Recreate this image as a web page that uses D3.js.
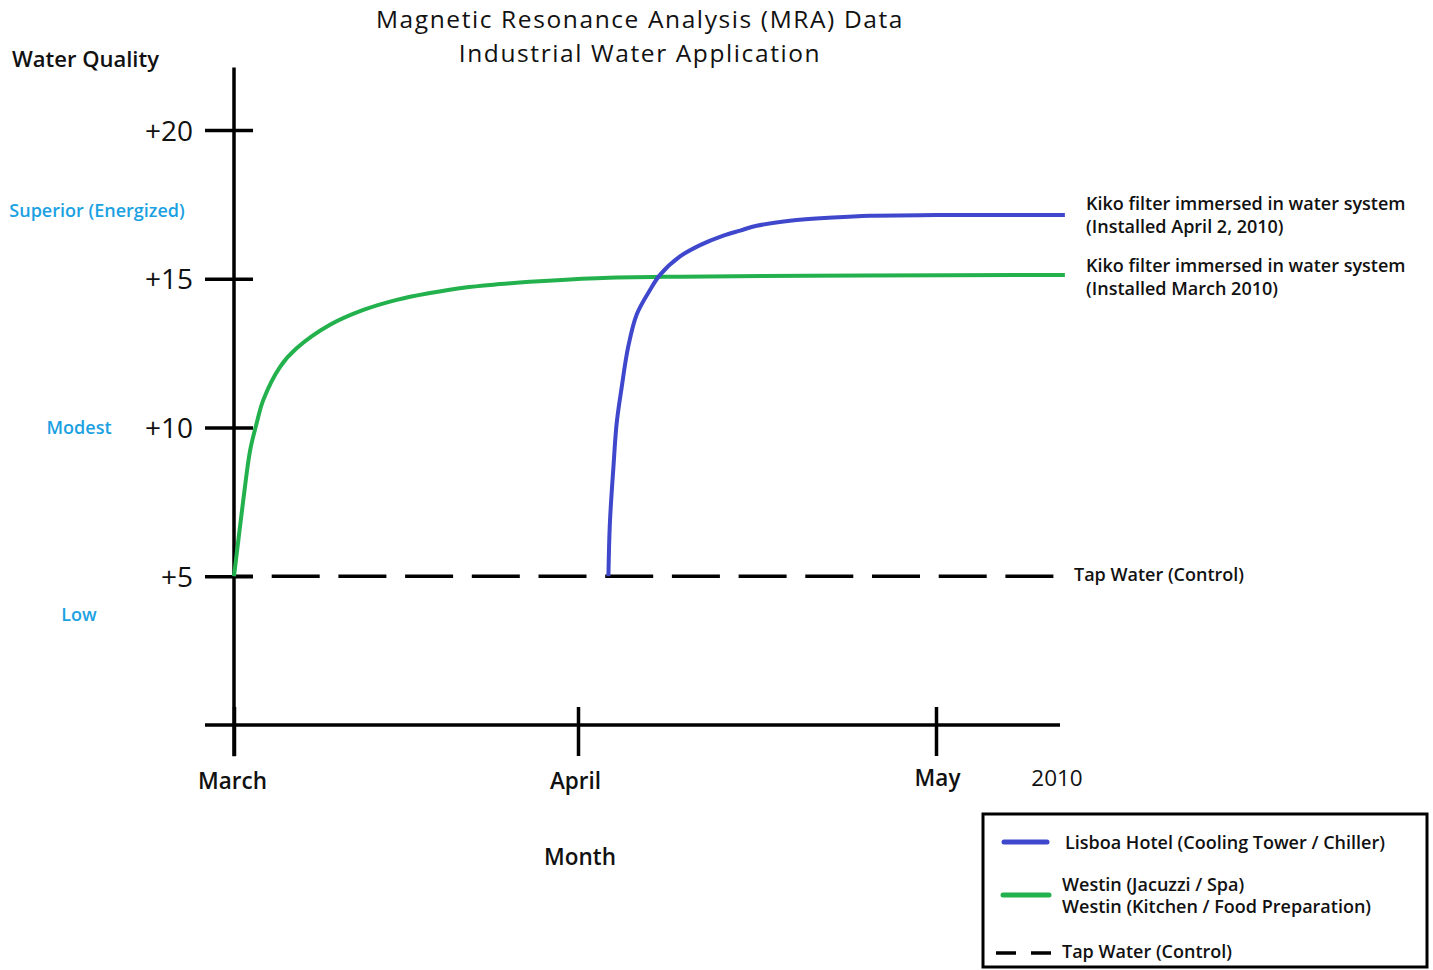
<!DOCTYPE html>
<html><head><meta charset="utf-8">
<script src="https://cdn.jsdelivr.net/npm/d3@7"></script>
<style>
body{margin:0;background:#fff;}
svg text{font-family:"Open Sans",sans-serif;}
</style></head>
<body><svg id="c" width="1433" height="970"></svg>
<script>
// ---- data ----
const months = ["March", "April", "May"];
const monthIndex = [0, 1, 2];
const yTicks = [5, 10, 15, 20];
const qualityLabels = ["Superior (Energized)", "Modest", "Low"];
const qualityValues = [17.3, 10, 3.7];

// Lisboa Hotel (blue) - x in months from start of March
const blueX = [1.085, 1.089, 1.099, 1.108, 1.122, 1.140, 1.164, 1.201, 1.229, 1.285, 1.341, 1.406, 1.453, 1.499, 1.592, 1.713, 1.816, 2.0, 2.36];
const blueY = [5, 6.77, 8.68, 10.14, 11.35, 12.7, 13.8, 14.62, 15.13, 15.75, 16.13, 16.45, 16.62, 16.78, 16.95, 17.06, 17.12, 17.14, 17.14];

// Westin (green)
const greenX = [0.0, 0.027, 0.047, 0.066, 0.085, 0.134, 0.182, 0.279, 0.376, 0.473, 0.570, 0.667, 0.773, 0.860, 1.052, 1.285, 1.8, 2.36];
const greenY = [5, 7.56, 9.24, 10.15, 10.92, 12.04, 12.66, 13.45, 13.95, 14.29, 14.52, 14.70, 14.82, 14.90, 15.02, 15.07, 15.11, 15.13];

// Tap water control
const tapX = [0, 2.341];
const tapY = [5, 5];

const legendLabels = [["Lisboa Hotel (Cooling Tower / Chiller)"], ["Westin (Jacuzzi / Spa)", "Westin (Kitchen / Food Preparation)"], ["Tap Water (Control)"]];
const endLabels = [["Kiko filter immersed in water system", "(Installed April 2, 2010)"], ["Kiko filter immersed in water system", "(Installed March 2010)"], ["Tap Water (Control)"]];
const titleLines = ["Magnetic Resonance Analysis (MRA) Data", "Industrial Water Application"];

const BLUE = "#3f48cc", GREEN = "#22b14c", SKY = "#1ba1e2";

// ---- scales ----
const svg = d3.select("#c");
const x = d3.scaleLinear().domain(monthIndex).range([234, 578, 936]);
const y = d3.scaleLinear().domain([0, 20]).range([725, 130]);

// title
titleLines.forEach((l, i) => {
  svg.append("text").attr("x", 640).attr("y", 28 + i * 34).attr("text-anchor", "middle")
    .style("font-size", "24.5px").style("letter-spacing", "1.6px").attr("fill", "#111").text(l);
});

svg.append("text").attr("x", 12).attr("y", 67).style("font-size", "22px").style("font-weight", 600)
  .attr("fill", "#111").text("Water Quality");

// y axis
const yAxis = d3.axisLeft(y).tickValues(yTicks).tickFormat(d => "+" + d).tickSizeOuter(0);
const gy = svg.append("g").attr("transform", `translate(${x(0)},0)`).call(yAxis);
gy.select(".domain").remove();
gy.selectAll(".tick line").attr("x1", -29).attr("x2", 19).attr("stroke", "#000").attr("stroke-width", 3.5);
gy.selectAll(".tick text").attr("x", -41).attr("dy", "0.36em").style("font-size", "28px")
  .style("font-family", "'Open Sans',sans-serif").attr("fill", "#111");
svg.append("line").attr("x1", x(0)).attr("x2", x(0)).attr("y1", y(22.1)).attr("y2", y(-1.05))
  .attr("stroke", "#000").attr("stroke-width", 3.5);

// quality labels
svg.selectAll(".q").data(qualityLabels).join("text")
  .attr("x", (d, i) => [97, 79, 79][i]).attr("y", (d, i) => y(qualityValues[i]))
  .attr("dy", "0.35em").attr("text-anchor", "middle")
  .style("font-size", "18px").style("font-weight", 600).attr("fill", SKY).text(d => d);

// x axis
const xAxis = d3.axisBottom(x).tickValues(monthIndex).tickFormat(d => months[d]).tickSizeOuter(0);
const gx = svg.append("g").attr("transform", `translate(0,${y(0)})`).call(xAxis);
gx.select(".domain").remove();
gx.selectAll(".tick line").attr("y1", -18).attr("y2", 31).attr("stroke", "#000").attr("stroke-width", 3.5);
gx.selectAll(".tick text").attr("dy", 0).style("font-size", "22.5px").style("font-weight", 600)
  .style("font-family", "'Open Sans',sans-serif").attr("fill", "#111")
  .attr("dx", (d, i) => [-2, -3, 1][i]).attr("y", (d, i) => [64, 64, 61][i]);
svg.append("line").attr("x1", 205).attr("x2", 1060).attr("y1", y(0)).attr("y2", y(0))
  .attr("stroke", "#000").attr("stroke-width", 3.5);
svg.append("text").attr("x", 1057).attr("y", 786).attr("text-anchor", "middle").style("font-size", "22.5px")
  .attr("fill", "#111").text("2010");
svg.append("text").attr("x", 580).attr("y", 865).attr("text-anchor", "middle").style("font-size", "22.5px")
  .style("font-weight", 600).attr("fill", "#111").text("Month");

// lines
const line = d3.line().x(d => x(d[0])).y(d => y(d[1])).curve(d3.curveCatmullRom.alpha(0.5));
svg.append("path").datum(tapX.map((v, i) => [v, tapY[i]])).attr("d", d3.line().x(d => x(d[0])).y(d => y(d[1])))
  .attr("fill", "none").attr("stroke", "#000").attr("stroke-width", 3.5)
  .attr("stroke-dasharray", "48,18.7").attr("stroke-dashoffset", 29);
svg.append("path").datum(greenX.map((v, i) => [v, greenY[i]])).attr("d", line)
  .attr("fill", "none").attr("stroke", GREEN).attr("stroke-width", 4);
svg.append("path").datum(blueX.map((v, i) => [v, blueY[i]])).attr("d", line)
  .attr("fill", "none").attr("stroke", BLUE).attr("stroke-width", 4);

// end labels
const endPos = [[1086, y(blueY[blueY.length - 1]) - 5], [1086, y(greenY[greenY.length - 1]) - 3], [1074, y(tapY[1]) + 5]];
endLabels.forEach((lines, i) => {
  const t = svg.append("text").attr("x", endPos[i][0]).attr("y", endPos[i][1])
    .style("font-size", "18px").style("font-weight", 600).attr("fill", "#111");
  lines.forEach((l, j) => t.append("tspan").attr("x", endPos[i][0]).attr("dy", j ? 23 : 0).text(l));
});

// legend
svg.append("rect").attr("x", 983).attr("y", 814).attr("width", 444).attr("height", 153)
  .attr("fill", "#fff").attr("stroke", "#000").attr("stroke-width", 3);
svg.append("line").attr("x1", 1004).attr("x2", 1047).attr("y1", 842).attr("y2", 842)
  .attr("stroke", BLUE).attr("stroke-width", 5).attr("stroke-linecap", "round");
svg.append("line").attr("x1", 1003).attr("x2", 1049).attr("y1", 895).attr("y2", 895)
  .attr("stroke", GREEN).attr("stroke-width", 5).attr("stroke-linecap", "round");
svg.append("line").attr("x1", 996).attr("x2", 1053).attr("y1", 953).attr("y2", 953)
  .attr("stroke", "#000").attr("stroke-width", 3.5).attr("stroke-dasharray", "20,15");
const legPos = [[1065, 849], [1062, 891], [1062, 958]];
legendLabels.forEach((lines, i) => {
  const t = svg.append("text").attr("x", legPos[i][0]).attr("y", legPos[i][1])
    .style("font-size", "18px").style("font-weight", 600).attr("fill", "#111");
  lines.forEach((l, j) => t.append("tspan").attr("x", legPos[i][0]).attr("dy", j ? 22 : 0).text(l));
});
</script></body></html>
